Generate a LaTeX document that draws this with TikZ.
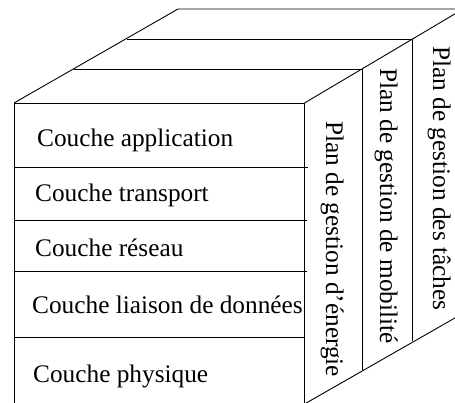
\documentclass[tikz,border=0pt]{standalone}
\usepackage{fontspec}
\setmainfont{Liberation Serif}
\begin{document}
\begin{tikzpicture}[x=1pt,y=-1pt,
  edge/.style={line width=0.9pt, black},
  layer/.style={inner sep=0pt, anchor=base west, font=\fontsize{25.3}{30}\selectfont},
  plane/.style={layer, rotate=-90}]
\useasboundingbox (0,0) rectangle (455,403);
\clip (0,0) rectangle (455,403);

% front face of the stack
\draw[edge] (14,420) -- (14,103) -- (304.5,103) -- (304.5,420);
% layer separators
\draw[edge] (14,167) -- (308,167);
\draw[edge] (14,220) -- (307,220);
\draw[edge] (14,271) -- (307,271);
\draw[edge] (14,337) -- (304.5,337);

% top face and the three management planes
\draw[edge] (14,103) -- (178,9) -- (475,9);
\draw[edge] (74,69) -- (362,69) -- (362,370);
\draw[edge] (127,39) -- (412,39) -- (412,341);
\draw[edge] (304.5,103) -- (475,2);
\draw[edge] (304.5,404) -- (475,306.5);

% layers
\node[layer] (app)  at (37,147)   {Couche application};
\node[layer] (tra)  at (35,202)   {Couche transport};
\node[layer] (res)  at (35,257)   {Couche réseau};
\node[layer] (lia)  at (32,313)   {Couche liaison de données};
\node[layer] (phy)  at (33,382)   {Couche physique};

% planes
\node[plane] (nrg) at (326,121) {Plan de gestion d’énergie};
\node[plane] (mob) at (380,68)  {Plan de gestion de mobilité};
\node[plane] (tsk) at (433,46)  {Plan de gestion des tâches};
\end{tikzpicture}
\end{document}
